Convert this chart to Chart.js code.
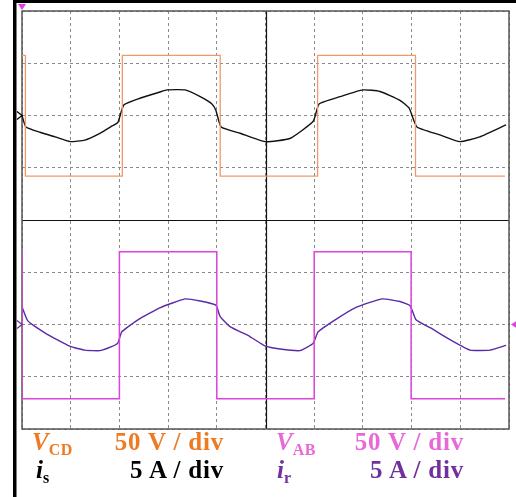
<!DOCTYPE html>
<html>
<head>
<meta charset="utf-8">
<script src="https://cdn.jsdelivr.net/npm/chart.js@4/dist/chart.umd.min.js"></script>
<style>
  html, body { margin: 0; padding: 0; background: #fff; }
  #wrap { position: relative; width: 516px; height: 497px; }
  #scope { position: absolute; left: 0; top: 0; }
  .lbl { position: absolute; font-family: "Liberation Serif", "Times New Roman", serif; font-weight: bold; font-size: 25px; line-height: 1; white-space: nowrap; }
  .val { letter-spacing: 0.8px; }
  .sym { font-style: italic; }
  .sym sub { font-style: normal; font-size: 16px; vertical-align: -5px; letter-spacing: 0.5px; }
  .orange { color: #EE7A22; }
  .pink { color: #E868D8; }
  .purple { color: #7030A0; }
  .black { color: #000; }
</style>
</head>
<body>
<div id="wrap">
  <canvas id="scope" width="516" height="497"></canvas>
  <div class="lbl sym orange" style="left:32px; top:429px;">V<sub>CD</sub></div>
  <div class="lbl val orange" style="right:292px; top:429px;">50 V / div</div>
  <div class="lbl sym pink" style="left:276px; top:429px;">V<sub>AB</sub></div>
  <div class="lbl val pink" style="right:52px; top:429px;">50 V / div</div>
  <div class="lbl sym black" style="left:36px; top:457px;">i<sub>s</sub></div>
  <div class="lbl val black" style="right:292px; top:457px;">5 A / div</div>
  <div class="lbl sym purple" style="left:277px; top:457px;">i<sub>r</sub></div>
  <div class="lbl val purple" style="right:52px; top:457px;">5 A / div</div>
</div>
<script>
// time axis in divisions (10 div), amplitude in divisions (8 div, centre 0)
const vcdTime = [0, 0.07, 0.07, 2.06, 2.06, 4.07, 4.07, 6.07, 6.07, 8.08, 8.08, 9.92];
const vcdVal  = [3.15, 3.15, 0.84, 0.84, 3.15, 3.15, 0.84, 0.84, 3.15, 3.15, 0.84, 0.84];

const isTime = [0, 0.08, 0.37, 0.68, 0.99, 1.29, 1.6, 1.85, 1.97, 2.09, 2.42, 2.83, 2.98, 3.35, 3.66, 3.9, 3.98,
                4.09, 4.48, 4.99, 5.5, 5.98, 6.1, 6.53, 7.0, 7.35, 7.76, 7.95, 8.11, 8.58, 8.99, 9.4, 9.94];
const isVal  = [2.0, 1.78, 1.68, 1.59, 1.5, 1.53, 1.66, 1.8, 1.87, 2.2, 2.33, 2.45, 2.49, 2.49, 2.36, 2.22, 2.1,
                1.78, 1.66, 1.5, 1.56, 1.89, 2.22, 2.36, 2.49, 2.46, 2.29, 2.14, 1.78, 1.63, 1.5, 1.59, 1.82];

const vabTime = [0, 0, 2.0, 2.0, 4.0, 4.0, 6.0, 6.0, 7.99, 7.99, 9.92];
const vabVal  = [-0.58, -3.42, -3.42, -0.61, -0.61, -3.42, -3.42, -0.61, -0.61, -3.42, -3.42];

const irTime = [0, 0.12, 0.47, 0.99, 1.29, 1.6, 1.85, 1.97, 2.05, 2.38, 2.83, 3.35, 3.66, 3.98,
                4.07, 4.27, 4.68, 4.99, 5.3, 5.71, 5.98, 6.08, 6.43, 6.84, 7.39, 7.76, 7.97,
                8.09, 8.38, 8.79, 9.2, 9.61, 9.94];
const irVal  = [-1.66, -1.93, -2.16, -2.42, -2.49, -2.5, -2.42, -2.35, -2.14, -1.91, -1.68, -1.51, -1.55, -1.63,
                -1.85, -2.04, -2.23, -2.41, -2.47, -2.5, -2.36, -2.14, -1.91, -1.68, -1.51, -1.56, -1.64,
                -1.91, -2.06, -2.29, -2.49, -2.49, -2.40];

function toPoints(xs, ys) {
    return xs.map((x, i) => ({ x: x, y: ys[i] }));
}

function trace(label, xs, ys, color, width, tension) {
    return {
        label: label,
        data: toPoints(xs, ys),
        showLine: true,
        borderColor: color,
        borderWidth: width,
        pointRadius: 0,
        tension: tension
    };
}

// solid centre lines + frame, drawn above the dashed grid
const scopeFrame = {
    id: 'scopeFrame',
    beforeDatasetsDraw(chart) {
        const ctx = chart.ctx;
        const a = chart.chartArea;
        const xs = chart.scales.x, ys = chart.scales.y;
        ctx.save();
        ctx.setLineDash([]);
        ctx.strokeStyle = '#111';
        ctx.lineWidth = 1.2;
        const cx = Math.round(xs.getPixelForValue(5)) + 0.5;
        const cy = Math.round(ys.getPixelForValue(0)) + 0.5;
        ctx.beginPath();
        ctx.moveTo(cx, a.top); ctx.lineTo(cx, a.bottom);
        ctx.moveTo(a.left, cy); ctx.lineTo(a.right, cy);
        ctx.stroke();
        ctx.strokeStyle = '#555';
        ctx.lineWidth = 1.5;
        ctx.strokeRect(a.left, a.top, a.right - a.left, a.bottom - a.top);
        ctx.restore();
    },
    afterDraw(chart) {
        const ctx = chart.ctx;
        const a = chart.chartArea;
        const ys = chart.scales.y;
        ctx.save();
        // outer screen border
        ctx.fillStyle = '#000';
        ctx.fillRect(13, 0, 3.5, 497);
        ctx.fillRect(13, 0, 503, 3);
        // trigger marker
        ctx.fillStyle = '#E040E0';
        ctx.beginPath();
        ctx.moveTo(a.left - 4, 4); ctx.lineTo(a.left + 4, 4); ctx.lineTo(a.left, 10);
        ctx.closePath(); ctx.fill();
        // ground markers
        const g1 = ys.getPixelForValue(2), g2 = ys.getPixelForValue(-2);
        ctx.lineWidth = 1.3;
        ctx.strokeStyle = '#000';
        ctx.beginPath();
        ctx.moveTo(a.left - 5, g1 - 4); ctx.lineTo(a.left, g1); ctx.lineTo(a.left - 5, g1 + 4);
        ctx.stroke();
        ctx.strokeStyle = '#7030A0';
        ctx.beginPath();
        ctx.moveTo(a.left - 5, g2 - 4); ctx.lineTo(a.left, g2); ctx.lineTo(a.left - 5, g2 + 4);
        ctx.stroke();
        ctx.fillStyle = '#E040E0';
        ctx.beginPath();
        ctx.moveTo(a.right + 2, g2); ctx.lineTo(a.right + 8, g2 - 4); ctx.lineTo(a.right + 8, g2 + 4);
        ctx.closePath(); ctx.fill();
        ctx.restore();
    }
};

const gridOpts = {
    color: '#8a8a8a',
    lineWidth: 1,
    drawTicks: false
};

new Chart(document.getElementById('scope').getContext('2d'), {
    type: 'scatter',
    data: {
        datasets: [
            trace('VCD', vcdTime, vcdVal, '#EE9A6A', 1.3, 0),
            trace('is', isTime, isVal, '#111111', 1.4, 0.15),
            trace('VAB', vabTime, vabVal, '#DD44DD', 1.5, 0),
            trace('ir', irTime, irVal, '#5A2AA8', 1.4, 0.15)
        ]
    },
    options: {
        responsive: false,
        animation: false,
        layout: { padding: { left: 22, top: 11, right: 7, bottom: 68 } },
        plugins: {
            legend: { display: false },
            tooltip: { enabled: false }
        },
        scales: {
            x: {
                type: 'linear',
                min: 0, max: 10,
                ticks: { display: false, stepSize: 1 },
                grid: gridOpts,
                border: { display: false, dash: [3, 3] }
            },
            y: {
                type: 'linear',
                min: -4, max: 4,
                ticks: { display: false, stepSize: 1 },
                grid: gridOpts,
                border: { display: false, dash: [3, 3] }
            }
        }
    },
    plugins: [scopeFrame]
});
</script>
</body>
</html>
